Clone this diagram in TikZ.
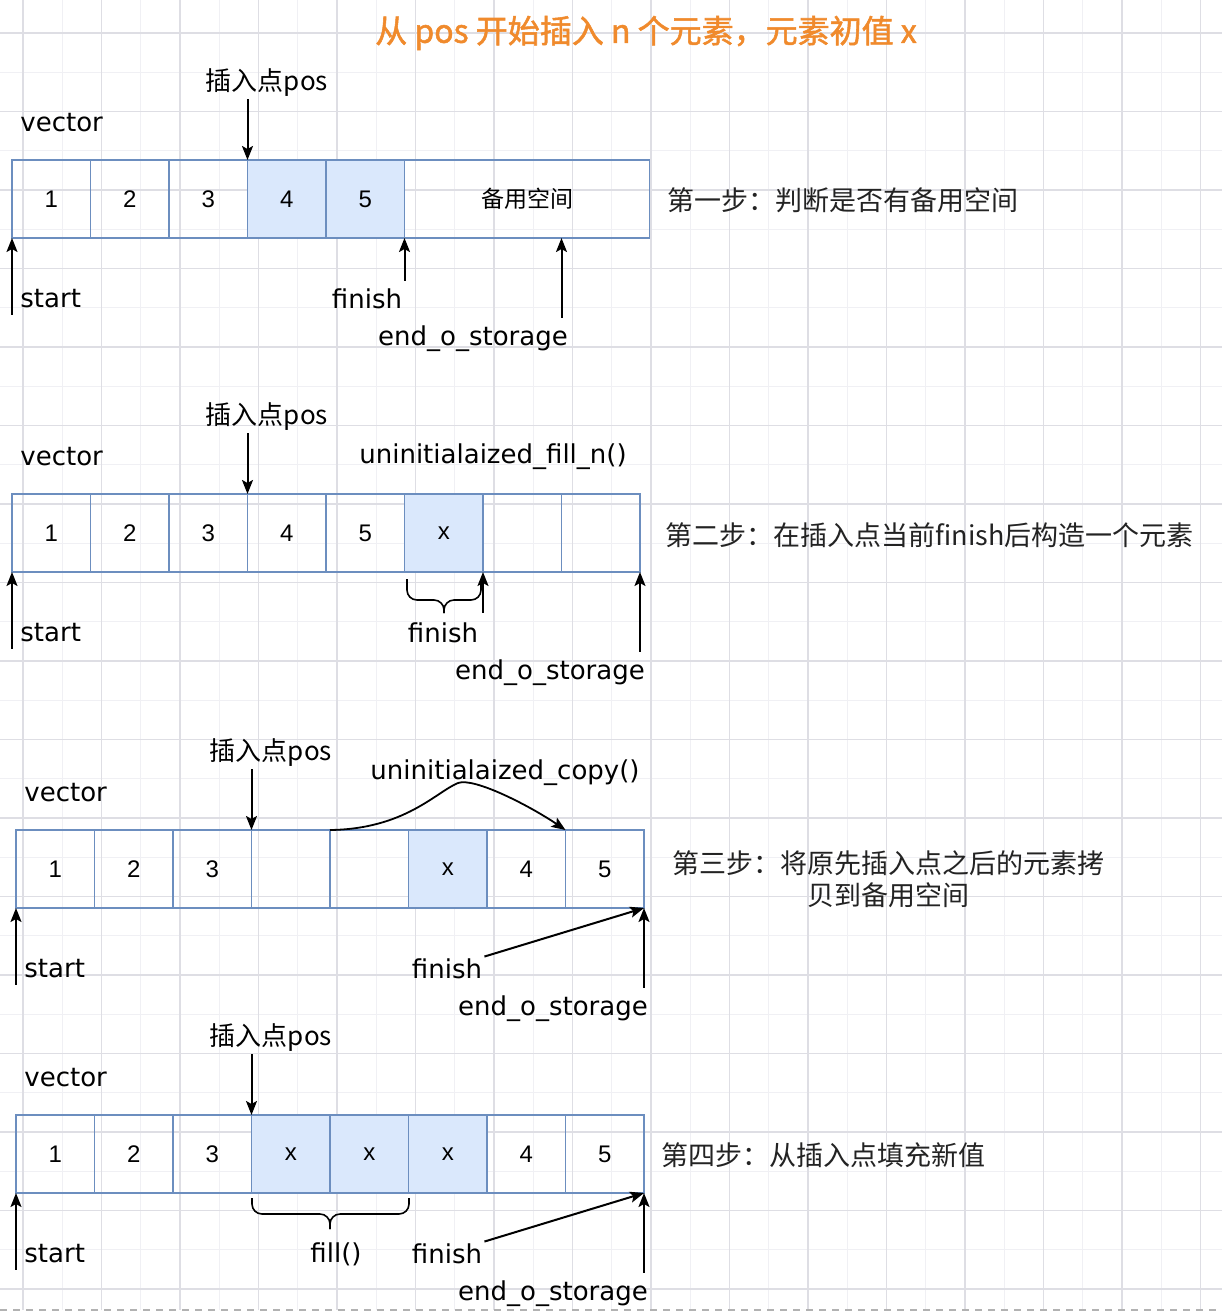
\documentclass[tikz,border=0pt]{standalone}
\usepackage{fontspec}
\setmainfont{DejaVu Sans}
\newfontfamily\cjk{Noto Sans CJK SC}
\newfontfamily\cjkb[FakeBold=1.6]{Noto Sans CJK SC}
\newfontfamily\numfont{Liberation Sans}
\usetikzlibrary{positioning,arrows.meta}
\definecolor{cellline}{RGB}{108,142,191}
\definecolor{cellfill}{RGB}{218,232,252}
\definecolor{titleorange}{RGB}{240,138,44}
\definecolor{gridmajor}{RGB}{222,222,228}
\definecolor{gridminor}{RGB}{240,240,244}
\definecolor{steptext}{RGB}{35,35,35}
\tikzset{
  cell/.style={draw=cellline, line width=0.75pt, minimum width=39.25pt,
    minimum height=39pt, inner sep=0pt, outer sep=0pt,
    font=\numfont\fontsize{12}{14}\selectfont},
  used/.style={cell, fill=cellfill},
  lbl/.style={inner sep=1pt, font=\fontsize{13}{15}\selectfont},
  cjklbl/.style={inner sep=1pt, font=\cjk\fontsize{13}{15}\selectfont},
  steplbl/.style={inner sep=1pt, text=steptext, font=\cjk\fontsize{13.5}{16}\selectfont},
  ptr/.style={line width=1pt, -{Stealth[length=7pt,width=5.5pt,inset=1.5pt]}},
  curly/.style={line width=0.8pt, rounded corners=5pt},
  pagebreak/.style={gray!60, line width=0.6pt, dash pattern=on 3.5pt off 3pt}
}

\begin{document}
\begin{tikzpicture}[x=0.5pt, y=-0.5pt]
\fill[white] (0,0) rectangle (1222,1314);
\useasboundingbox (0,0) rectangle (1222,1314);

% grid paper
\begin{scope}[shift={(23,33)}]
\draw[gridminor, line width=0.5pt, step=19.625pt] (-23,1277) grid (1199,-33);
\draw[gridmajor, line width=0.6pt, step=39.25pt] (-23,1277) grid (1199,-33);
\end{scope}
\draw[pagebreak] (0,1310) -- (1222,1310);

\node[font=\cjkb\fontsize{16}{18}\selectfont, text=titleorange] (title) at (646,33) {从 pos 开始插入 n 个元素，元素初值 x};

% step 1
\node[lbl, anchor=west] (vec1) at (18,123) {vector};
\node[cjklbl] (pos1) at (267,83) {插入点pos};
\node[cell, anchor=north west] (r1c1) at (12,160) {1};
\node[cell, right=0pt of r1c1] (r1c2) {2};
\node[cell, right=0pt of r1c2] (r1c3) {3};
\node[used, right=0pt of r1c3] (r1c4) {4};
\node[used, right=0pt of r1c4] (r1c5) {5};
\node[cell, right=0pt of r1c5, minimum width=122.5pt,
  font=\cjk\fontsize{11.5}{13}\selectfont] (r1c6) {备用空间};
\node[lbl, anchor=west] (start1) at (18,299) {start};
\node[lbl] (finish1) at (367,299) {finish};
\node[lbl] (end1) at (473,339) {end\_o\_storage};
\node[steplbl, anchor=west] (step1) at (665,200) {第一步：判断是否有备用空间};
\coordinate (e1) at ([xshift=78.5pt]r1c6.south west);
\draw[ptr] (pos1.south -| r1c4.north west) -- (r1c4.north west);
\draw[ptr] ([yshift=-2pt]start1.south -| r1c1.south west) -- (r1c1.south west);
\draw[ptr] ([yshift=3pt]finish1.north -| r1c5.south east) -- (r1c5.south east);
\draw[ptr] ([yshift=3pt]end1.north -| e1) -- (e1);

% step 2
\node[lbl, anchor=west] (vec2) at (18,457) {vector};
\node[cjklbl] (pos2) at (267,417) {插入点pos};
\node[lbl] (fn2) at (493,457) {uninitialaized\_fill\_n()};
\node[cell, anchor=north west] (r2c1) at (12,494) {1};
\node[cell, right=0pt of r2c1] (r2c2) {2};
\node[cell, right=0pt of r2c2] (r2c3) {3};
\node[cell, right=0pt of r2c3] (r2c4) {4};
\node[cell, right=0pt of r2c4] (r2c5) {5};
\node[used, right=0pt of r2c5] (r2c6) {x};
\node[cell, right=0pt of r2c6] (r2c7) {};
\node[cell, right=0pt of r2c7] (r2c8) {};
\node[lbl, anchor=west] (start2) at (18,633) {start};
\node[lbl] (finish2) at (443,633) {finish};
\node[lbl] (end2) at (550,673) {end\_o\_storage};
\node[steplbl, anchor=west] (step2) at (663,535) {第二步：在插入点当前finish后构造一个元素};
\draw[curly] (407,579) |- (444,600) -- (444,613);
\draw[curly] (481,579) |- (444,600) -- (444,613);
\draw[ptr] (pos2.south -| r2c4.north west) -- (r2c4.north west);
\draw[ptr] ([yshift=-2pt]start2.south -| r2c1.south west) -- (r2c1.south west);
\draw[ptr] ([yshift=4pt]finish2.north -| r2c6.south east) -- (r2c6.south east);
\draw[ptr] ([yshift=3pt]end2.north -| r2c8.south east) -- (r2c8.south east);

% step 3
\node[lbl, anchor=west] (vec3) at (22,793) {vector};
\node[cjklbl] (pos3) at (271,753) {插入点pos};
\node[cell, anchor=north west] (r3c1) at (16,830) {1};
\node[cell, right=0pt of r3c1] (r3c2) {2};
\node[cell, right=0pt of r3c2] (r3c3) {3};
\node[cell, right=0pt of r3c3] (r3c4) {};
\node[cell, right=0pt of r3c4] (r3c5) {};
\node[used, right=0pt of r3c5] (r3c6) {x};
\node[cell, right=0pt of r3c6] (r3c7) {4};
\node[cell, right=0pt of r3c7] (r3c8) {5};
\draw[ptr, line width=0.9pt] (r3c5.north west) .. controls (405,829) and (436,792) .. (458,783)
  .. controls (474,777) and (530,806) .. (r3c8.north west);
\node[lbl] (fn3) at (505,773) {uninitialaized\_copy()};
\node[lbl, anchor=west] (start3) at (22,969) {start};
\node[lbl] (finish3) at (447,969) {finish};
\node[lbl] (end3) at (553,1009) {end\_o\_storage};
\node[steplbl, align=center] (step3) at (888,879) {第三步：将原先插入点之后的元素拷\\贝到备用空间};
\draw[ptr] (pos3.south -| r3c4.north west) -- (r3c4.north west);
\draw[ptr] ([yshift=-2pt]start3.south -| r3c1.south west) -- (r3c1.south west);
\draw[ptr] (finish3.north east) -- (r3c8.south east);
\draw[ptr] ([yshift=3pt]end3.north -| r3c8.south east) -- (r3c8.south east);

% step 4
\node[lbl, anchor=west] (vec4) at (22,1078) {vector};
\node[cjklbl] (pos4) at (271,1038) {插入点pos};
\node[cell, anchor=north west] (r4c1) at (16,1115) {1};
\node[cell, right=0pt of r4c1] (r4c2) {2};
\node[cell, right=0pt of r4c2] (r4c3) {3};
\node[used, right=0pt of r4c3] (r4c4) {x};
\node[used, right=0pt of r4c4] (r4c5) {x};
\node[used, right=0pt of r4c5] (r4c6) {x};
\node[cell, right=0pt of r4c6] (r4c7) {4};
\node[cell, right=0pt of r4c7] (r4c8) {5};
\node[lbl, anchor=west] (start4) at (22,1254) {start};
\node[lbl] (fill4) at (336,1254) {fill()};
\node[lbl] (finish4) at (447,1254) {finish};
\node[lbl] (end4) at (553,1294) {end\_o\_storage};
\node[steplbl, anchor=west] (step4) at (659,1155) {第四步：从插入点填充新值};
\draw[curly] (252,1198) |- (330,1214) -- (330,1229);
\draw[curly] (409,1198) |- (330,1214) -- (330,1229);
\draw[ptr] (pos4.south -| r4c4.north west) -- (r4c4.north west);
\draw[ptr] ([yshift=-2pt]start4.south -| r4c1.south west) -- (r4c1.south west);
\draw[ptr] (finish4.north east) -- (r4c8.south east);
\draw[ptr] ([yshift=3pt]end4.north -| r4c8.south east) -- (r4c8.south east);
\end{tikzpicture}
\end{document}
